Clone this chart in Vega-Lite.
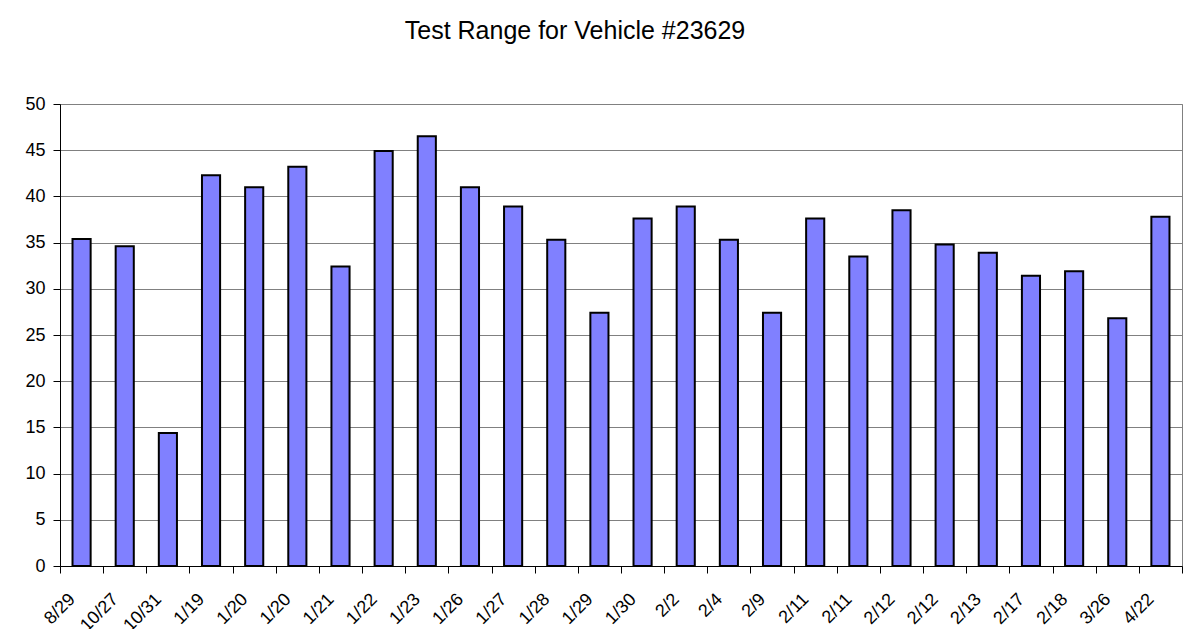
{
  "$schema": "https://vega.github.io/schema/vega-lite/v6.json",
  "width": 1122,
  "height": 462,
  "autosize": {"type": "none"},
  "padding": {"left": 60, "top": 104, "right": 9, "bottom": 63},
  "background": "white",
  "config": {
    "font": "Liberation Sans",
    "view": {"stroke": "#808080", "strokeWidth": 1}
  },
  "title": {
    "text": "Test Range for Vehicle #23629",
    "font": "Liberation Sans",
    "fontSize": 25,
    "fontWeight": "normal",
    "color": "black",
    "anchor": "middle",
    "frame": "group",
    "baseline": "alphabetic",
    "offset": 31,
    "dx": -46
  },
  "data": {
    "values": [
      {"i": 0, "date": "8/29", "range": 35.4},
      {"i": 1, "date": "10/27", "range": 34.6},
      {"i": 2, "date": "10/31", "range": 14.4},
      {"i": 3, "date": "1/19", "range": 42.3},
      {"i": 4, "date": "1/20", "range": 41.0},
      {"i": 5, "date": "1/20", "range": 43.2},
      {"i": 6, "date": "1/21", "range": 32.4},
      {"i": 7, "date": "1/22", "range": 44.9},
      {"i": 8, "date": "1/23", "range": 46.5},
      {"i": 9, "date": "1/26", "range": 41.0},
      {"i": 10, "date": "1/27", "range": 38.9},
      {"i": 11, "date": "1/28", "range": 35.3},
      {"i": 12, "date": "1/29", "range": 27.4},
      {"i": 13, "date": "1/30", "range": 37.6},
      {"i": 14, "date": "2/2", "range": 38.9},
      {"i": 15, "date": "2/4", "range": 35.3},
      {"i": 16, "date": "2/9", "range": 27.4},
      {"i": 17, "date": "2/11", "range": 37.6},
      {"i": 18, "date": "2/11", "range": 33.5},
      {"i": 19, "date": "2/12", "range": 38.5},
      {"i": 20, "date": "2/12", "range": 34.8},
      {"i": 21, "date": "2/13", "range": 33.9},
      {"i": 22, "date": "2/17", "range": 31.4},
      {"i": 23, "date": "2/18", "range": 31.9},
      {"i": 24, "date": "3/26", "range": 26.8},
      {"i": 25, "date": "4/22", "range": 37.8}
    ]
  },
  "mark": {
    "type": "bar",
    "fill": "#8080FF",
    "stroke": "black",
    "strokeWidth": 2,
    "width": {"band": 0.42}
  },
  "encoding": {
    "x": {
      "field": "i",
      "type": "ordinal",
      "scale": {"paddingInner": 0, "paddingOuter": 0},
      "axis": {
        "title": null,
        "labelExpr": "['8/29','10/27','10/31','1/19','1/20','1/20','1/21','1/22','1/23','1/26','1/27','1/28','1/29','1/30','2/2','2/4','2/9','2/11','2/11','2/12','2/12','2/13','2/17','2/18','3/26','4/22'][datum.value]",
        "labelAngle": -45,
        "labelAlign": "right",
        "labelBaseline": "top",
        "labelPadding": 17,
        "labelOffset": -16,
        "labelFontSize": 18,
        "labelColor": "black",
        "labelFont": "Liberation Sans",
        "labelOverlap": false,
        "tickBand": "extent",
        "ticks": true,
        "tickColor": "black",
        "tickSize": 7,
        "domainColor": "black",
        "domainWidth": 1,
        "grid": false
      }
    },
    "y": {
      "field": "range",
      "type": "quantitative",
      "scale": {"domain": [0, 50], "nice": false},
      "axis": {
        "title": null,
        "values": [0, 5, 10, 15, 20, 25, 30, 35, 40, 45, 50],
        "labelFontSize": 18,
        "labelColor": "black",
        "labelFont": "Liberation Sans",
        "labelPadding": 8,
        "tickColor": "black",
        "tickSize": 7,
        "domainColor": "black",
        "domainWidth": 1,
        "grid": true,
        "gridColor": "#808080",
        "gridWidth": 1,
        "gridOpacity": 1
      }
    }
  }
}
